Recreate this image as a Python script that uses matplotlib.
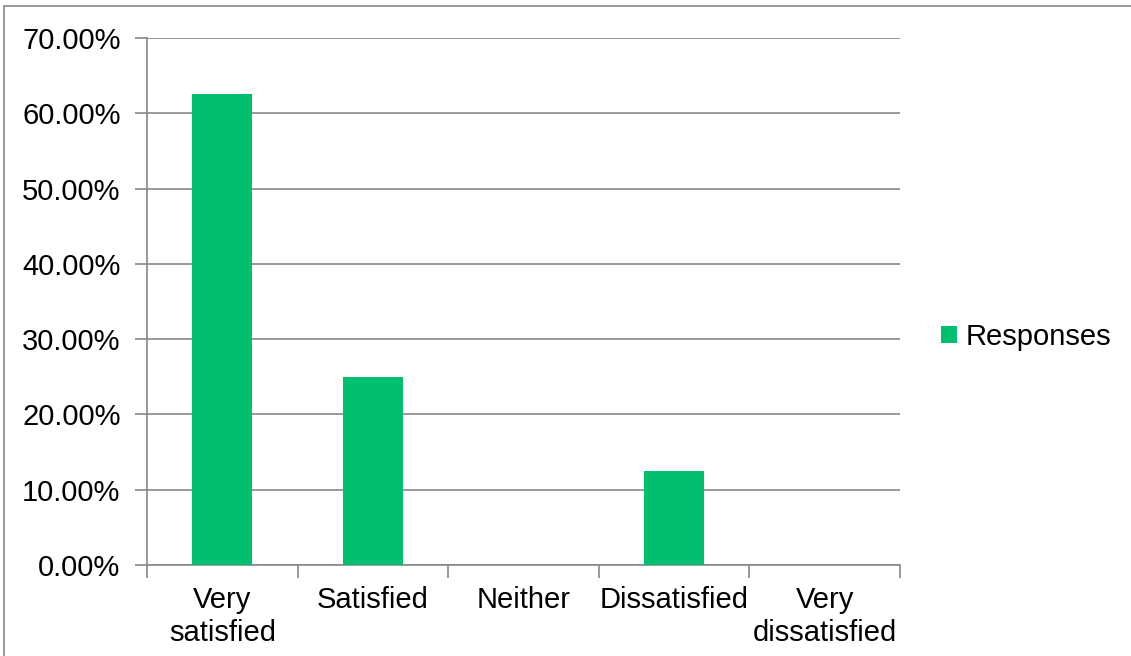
import matplotlib
matplotlib.use("Agg")
import matplotlib.pyplot as plt
from matplotlib.patches import Rectangle

categories = ["Very\nsatisfied", "Satisfied", "Neither", "Dissatisfied", "Very\ndissatisfied"]
responses = [62.5, 25.0, 0.0, 12.5, 0.0]
y_ticks = [0, 10, 20, 30, 40, 50, 60, 70]
series_name = "Responses"

plt.rcParams['font.family'] = ['Liberation Sans', 'DejaVu Sans']
W, H = 1131, 656
fig = plt.figure(figsize=(W / 100, H / 100), dpi=100)
fig.patch.set_facecolor('white')

# outer chart frame (left and top visible)
fig.add_artist(Rectangle((4 / W, -0.1), 1.2, 1 - 6 / H + 0.1, transform=fig.transFigure,
                         fill=False, edgecolor='#888888', linewidth=1.2))

left, right, top, bottom = 147, 900, 38, 565
ax = fig.add_axes([left / W, 1 - bottom / H, (right - left) / W, (bottom - top) / H])

green = '#00BF6F'
x = list(range(len(categories)))
ax.bar(x, responses, width=0.4, color=green, zorder=3, label=series_name)

ax.set_xlim(-0.5, len(categories) - 0.5)
ax.set_ylim(0, 70)
ax.set_yticks(y_ticks)
ax.set_yticklabels([f"{v:.2f}%" for v in y_ticks], fontsize=21)
ax.yaxis.grid(True, color='#888888', linewidth=1.2, zorder=0)

ax.set_xticks(x)
ax.set_xticklabels(categories, fontsize=21, linespacing=1.25)
ax.tick_params(axis='x', length=0, pad=15)
ax.tick_params(axis='y', length=9, color='#888888', width=1.2, pad=10)
# category boundary ticks
ax.set_xticks([i - 0.5 for i in range(len(categories) + 1)], minor=True)
ax.tick_params(axis='x', which='minor', length=9, color='#888888', width=1.2)

for s in ['top', 'right']:
    ax.spines[s].set_visible(False)
for s in ['left', 'bottom']:
    ax.spines[s].set_color('#888888')
    ax.spines[s].set_linewidth(1.2)

leg = fig.legend(loc='center left', bbox_to_anchor=(941 / W, 1 - 337 / H), frameon=False,
                 fontsize=21, handlelength=0.55, handleheight=0.55, handletextpad=0.3,
                 borderaxespad=0, borderpad=0)

fig.savefig("out.png", dpi=100, facecolor='white')
